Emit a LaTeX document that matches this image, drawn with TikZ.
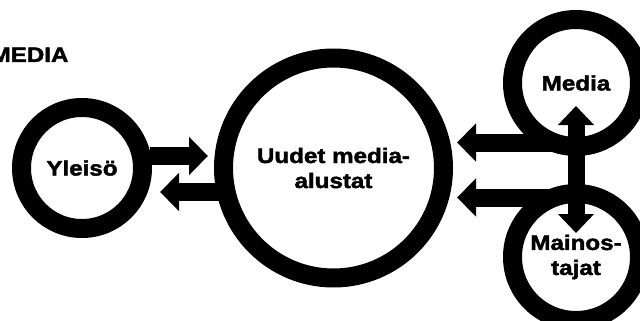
\documentclass[tikz,border=0pt]{standalone}
\usepackage{fontspec}
\setmainfont{Liberation Sans}[FakeStretch=1.15,BoldFeatures={FakeBold=2}]
\usetikzlibrary{arrows.meta}
\begin{document}
\begin{tikzpicture}[x=1pt,y=-1pt,
  ring/.style={circle,draw,line width=19pt,fill=white,inner sep=0pt,align=center,
    font=\fontsize{21}{25}\selectfont\bfseries},
  fat/.style={line width=18pt,-{Triangle[width=37pt,length=19pt]}},
  fatboth/.style={line width=17pt,{Triangle[width=35pt,length=19pt]}-{Triangle[width=35pt,length=19pt]}}]
\useasboundingbox[fill=white] (0,0) rectangle (640,321);
\node[anchor=base east,font=\fontsize{21}{25}\selectfont\bfseries] (titel) at (72,62) {MEDIA};
\node[ring,minimum size=121pt] (yleiso) at (82,168) {Yleisö};
\node[ring,minimum size=220pt] (uudet) at (333.5,168) {Uudet media-\\alustat};
\node[ring,minimum size=127pt] (media) at (576,83) {Media};
\node[ring,minimum size=127pt] (mainos) at (576,257) {Mainos-\\tajat};
\draw[fat] ([xshift=-2pt,yshift=12pt]yleiso.east) -- ([xshift=-6pt,yshift=12pt]uudet.west);
\draw[fat] ([xshift=6pt,yshift=-24pt]uudet.west) -- ([xshift=8pt,yshift=-24pt]yleiso.east);
\draw[fat] ([xshift=-24pt,yshift=-59.5pt]media.center) -- ([xshift=4pt,yshift=25.5pt]uudet.east);
\draw[fat] ([xshift=-24pt,yshift=59.5pt]mainos.center) -- ([xshift=4pt,yshift=-29.5pt]uudet.east);
\draw[fatboth] ([yshift=-23pt]media.center) -- ([yshift=24pt]mainos.center);
\end{tikzpicture}
\end{document}
